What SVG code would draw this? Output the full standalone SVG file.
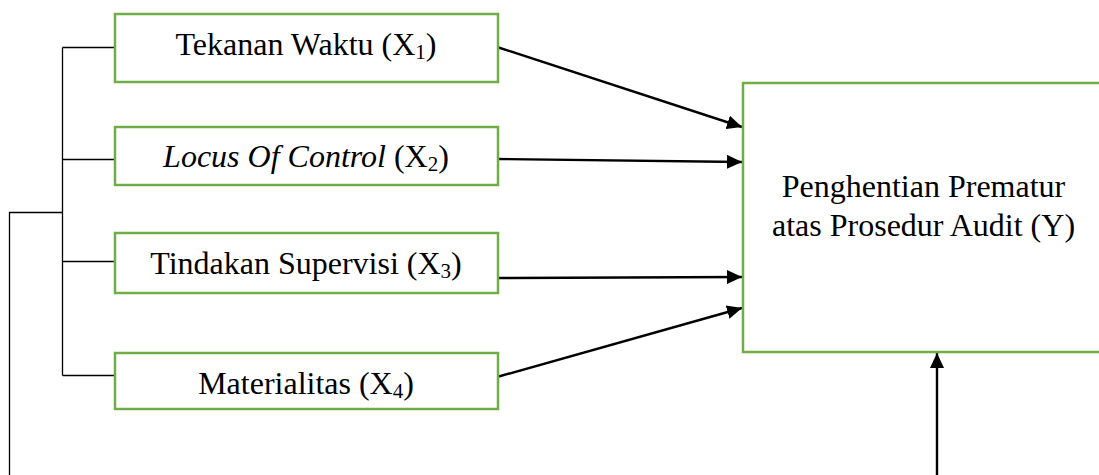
<svg xmlns="http://www.w3.org/2000/svg" width="1099" height="475" viewBox="0 0 1099 475">
<style>
.box{fill:#fff;stroke:#70AD47;stroke-width:2.5}
.t{font-family:"Liberation Serif","Times New Roman",serif;font-size:32px;fill:#000;text-anchor:middle}
.sub{font-size:21px}
.thin{stroke:#000;stroke-width:1.3;fill:none}
.arr{stroke:#000;stroke-width:2.4;fill:none;marker-end:url(#ah)}
</style>
<defs>
<marker id="ah" markerUnits="userSpaceOnUse" markerWidth="16" markerHeight="14" refX="15" refY="7" orient="auto">
<path d="M0,0 L15,7 L0,14 z" fill="#000"/>
</marker>
</defs>
<g id="connectors">
<path class="thin" d="M62.5,47.5 V375.5 M62.5,47.5 H115 M62.5,159.5 H115 M62.5,261.5 H115 M62.5,375.5 H115 M62.5,212.5 H9.5 V475"/>
<line class="arr" x1="497" y1="47" x2="742" y2="127"/>
<line class="arr" x1="497" y1="159" x2="742" y2="162"/>
<line class="arr" x1="497" y1="278" x2="742" y2="277"/>
<line class="arr" x1="497" y1="377" x2="742" y2="308"/>
<line class="arr" x1="937" y1="476" x2="937" y2="353"/>
</g>
<g id="x1">
<rect class="box" x="115" y="14" width="383" height="68"/>
<text class="t" x="306" y="55">Tekanan Waktu (X<tspan class="sub" dy="4">1</tspan><tspan dy="-4">)</tspan></text>
</g>
<g id="x2">
<rect class="box" x="115" y="127" width="383" height="58"/>
<text class="t" x="306" y="167"><tspan font-style="italic">Locus Of Control</tspan> (X<tspan class="sub" dy="4">2</tspan><tspan dy="-4">)</tspan></text>
</g>
<g id="x3">
<rect class="box" x="115" y="233" width="383" height="60"/>
<text class="t" x="306" y="274">Tindakan Supervisi (X<tspan class="sub" dy="4">3</tspan><tspan dy="-4">)</tspan></text>
</g>
<g id="x4">
<rect class="box" x="115" y="353" width="383" height="56"/>
<text class="t" x="306" y="394">Materialitas (X<tspan class="sub" dy="4">4</tspan><tspan dy="-4">)</tspan></text>
</g>
<g id="y">
<rect class="box" x="743" y="83" width="361" height="269"/>
<text class="t" x="923.5" y="197">Penghentian Prematur</text>
<text class="t" x="923.5" y="236">atas Prosedur Audit (Y)</text>
</g>
</svg>
